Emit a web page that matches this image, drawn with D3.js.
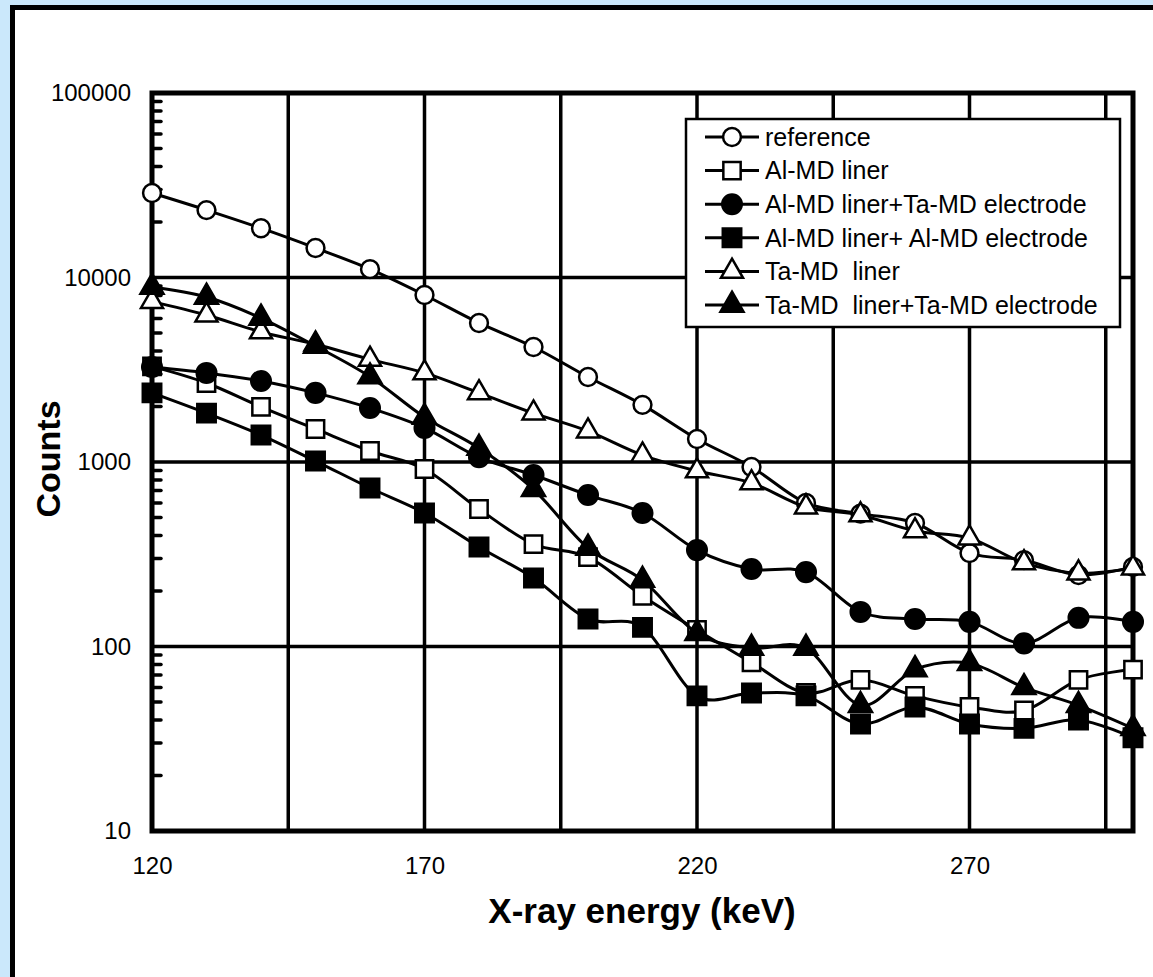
<!DOCTYPE html>
<html>
<head>
<meta charset="utf-8">
<script src="https://cdn.jsdelivr.net/npm/d3@7"></script>
<style>
  body { margin: 0; background: #cbe8fb; }
  svg { display: block; }
  text { font-family: Arial, "Liberation Sans", sans-serif; fill: #000; }
</style>
</head>
<body>
<div id="chart"></div>
<script>
// energies (keV)
const energies = [120, 130, 140, 150, 160, 170, 180, 190, 200, 210, 220, 230, 240, 250, 260, 270, 280, 290, 300];

// counts
const reference    = [28700, 23200, 18500, 14450, 11100, 8040, 5670, 4200, 2890, 2040, 1333, 940, 600, 525, 467, 321, 294, 244, 270];
const alLiner      = [3300, 2680, 1990, 1510, 1147, 916, 556, 359, 305, 188, 123, 82, 56, 66, 54, 47, 45, 66, 75];
const alLinerTaEl  = [3270, 3040, 2750, 2370, 1960, 1530, 1060, 850, 662, 529, 333, 263, 253, 154, 141, 136, 104, 143, 136];
const alLinerAlEl  = [2370, 1840, 1400, 1012, 723, 529, 346, 235, 141, 127, 54, 56, 54, 38, 47, 38, 36, 40, 32];
const taLiner      = [7400, 6260, 5070, 4350, 3600, 3040, 2370, 1840, 1470, 1090, 894, 770, 570, 516, 423, 387, 284, 250, 266];
const taLinerTaEl  = [8880, 7840, 6030, 4250, 2900, 1750, 1190, 710, 342, 229, 118, 98, 98, 48, 75, 81, 60, 48, 36];

const seriesNames = ["reference", "Al-MD liner", "Al-MD liner+Ta-MD electrode",
                     "Al-MD liner+ Al-MD electrode", "Ta-MD  liner", "Ta-MD  liner+Ta-MD electrode"];

const xTickLabels = [120, 170, 220, 270];
const xGrid = [145, 170, 195, 220, 245, 270, 295];
const yTickLabels = [10, 100, 1000, 10000, 100000];

const W = 1153, H = 977;
const plotL = 152, plotR = 1133, plotT = 93, plotB = 831;

const svg = d3.select("#chart").append("svg")
    .attr("width", W)
    .attr("height", H);

// background frame
svg.append("rect").attr("x", 0).attr("y", 0).attr("width", W).attr("height", H).attr("fill", "#cbe8fb");
svg.append("rect").attr("x", 12.5).attr("y", 7.5).attr("width", W + 20).attr("height", H + 20)
    .attr("fill", "#fff").attr("stroke", "#000").attr("stroke-width", 5);

const x = d3.scaleLinear().domain([120, 300]).range([plotL, plotR]);
const y = d3.scaleLog().domain([10, 100000]).range([plotB, plotT]);

// gridlines
svg.append("g")
  .selectAll("line")
  .data(xGrid)
  .join("line")
    .attr("x1", d => x(d)).attr("x2", d => x(d))
    .attr("y1", plotT).attr("y2", plotB)
    .attr("stroke", "#000").attr("stroke-width", 3.5);

svg.append("g")
  .selectAll("line")
  .data([100, 1000, 10000])
  .join("line")
    .attr("x1", plotL).attr("x2", plotR)
    .attr("y1", d => y(d)).attr("y2", d => y(d))
    .attr("stroke", "#000").attr("stroke-width", 3.5);

// minor ticks on the value axis (inside)
let minor = [];
[10, 100, 1000, 10000].forEach(dec => {
  for (let k = 2; k <= 9; k++) minor.push(dec * k);
});
svg.append("g")
  .selectAll("line")
  .data(minor)
  .join("line")
    .attr("x1", plotL).attr("x2", plotL + 9)
    .attr("y1", d => y(d)).attr("y2", d => y(d))
    .attr("stroke", "#000").attr("stroke-width", 3.5).attr("stroke-linecap", "round");

// plot frame
svg.append("rect")
    .attr("x", plotL).attr("y", plotT)
    .attr("width", plotR - plotL).attr("height", plotB - plotT)
    .attr("fill", "none").attr("stroke", "#000").attr("stroke-width", 5);

// axes labels
const xAxis = svg.append("g")
    .attr("transform", `translate(0,${plotB})`)
    .call(d3.axisBottom(x).tickValues(xTickLabels).tickSize(0).tickPadding(26).tickFormat(d3.format("d")));
xAxis.select(".domain").remove();
xAxis.selectAll("text").attr("font-size", 24).style("font-family", "Arial, 'Liberation Sans', sans-serif");

const yAxis = svg.append("g")
    .attr("transform", `translate(${plotL},0)`)
    .call(d3.axisLeft(y).tickValues(yTickLabels).tickSize(0).tickPadding(21).tickFormat(d3.format("d")));
yAxis.select(".domain").remove();
yAxis.selectAll("text").attr("font-size", 24).style("font-family", "Arial, 'Liberation Sans', sans-serif");

svg.append("text")
    .attr("x", 642).attr("y", 923)
    .attr("text-anchor", "middle")
    .attr("font-size", 35).attr("font-weight", "bold")
    .text("X-ray energy (keV)");

svg.append("text")
    .attr("transform", "translate(60,459) rotate(-90)")
    .attr("text-anchor", "middle")
    .attr("font-size", 34).attr("font-weight", "bold")
    .text("Counts");

// series
const series = [
  { name: seriesNames[0], values: reference,   shape: d3.symbolCircle,   size: 250, fill: "#fff" },
  { name: seriesNames[1], values: alLiner,     shape: d3.symbolSquare,   size: 300, fill: "#fff" },
  { name: seriesNames[2], values: alLinerTaEl, shape: d3.symbolCircle,   size: 300, fill: "#000" },
  { name: seriesNames[3], values: alLinerAlEl, shape: d3.symbolSquare,   size: 340, fill: "#000" },
  { name: seriesNames[4], values: taLiner,     shape: d3.symbolTriangle, size: 210, fill: "#fff" },
  { name: seriesNames[5], values: taLinerTaEl, shape: d3.symbolTriangle, size: 230, fill: "#000" }
];

const line = d3.line()
    .x(d => x(d[0]))
    .y(d => y(d[1]))
    .curve(d3.curveCardinal.tension(0));

series.forEach(s => {
  const pts = energies.map((e, i) => [e, s.values[i]]);
  const g = svg.append("g");
  g.append("path")
      .datum(pts)
      .attr("d", line)
      .attr("fill", "none")
      .attr("stroke", "#000")
      .attr("stroke-width", 3);
  g.selectAll("path.m")
    .data(pts)
    .join("path")
      .attr("class", "m")
      .attr("transform", d => `translate(${x(d[0])},${y(d[1])})`)
      .attr("d", d3.symbol().type(s.shape).size(s.size))
      .attr("fill", s.fill)
      .attr("stroke", "#000")
      .attr("stroke-width", 2.5);
});

// legend
const legend = svg.append("g").attr("transform", "translate(686,119)");
legend.append("rect")
    .attr("width", 434).attr("height", 208)
    .attr("fill", "#fff").attr("stroke", "#000").attr("stroke-width", 2.5);

series.forEach((s, i) => {
  const ly = 18 + i * 33.6;
  legend.append("line")
      .attr("x1", 19).attr("x2", 73)
      .attr("y1", ly).attr("y2", ly)
      .attr("stroke", "#000").attr("stroke-width", 3);
  legend.append("path")
      .attr("transform", `translate(46,${ly})`)
      .attr("d", d3.symbol().type(s.shape).size(s.size))
      .attr("fill", s.fill)
      .attr("stroke", "#000")
      .attr("stroke-width", 2.5);
  legend.append("text")
      .attr("x", 79).attr("y", ly)
      .attr("dy", "0.35em")
      .attr("font-size", 25)
      .style("white-space", "pre")
      .text(s.name);
});
</script>
</body>
</html>
